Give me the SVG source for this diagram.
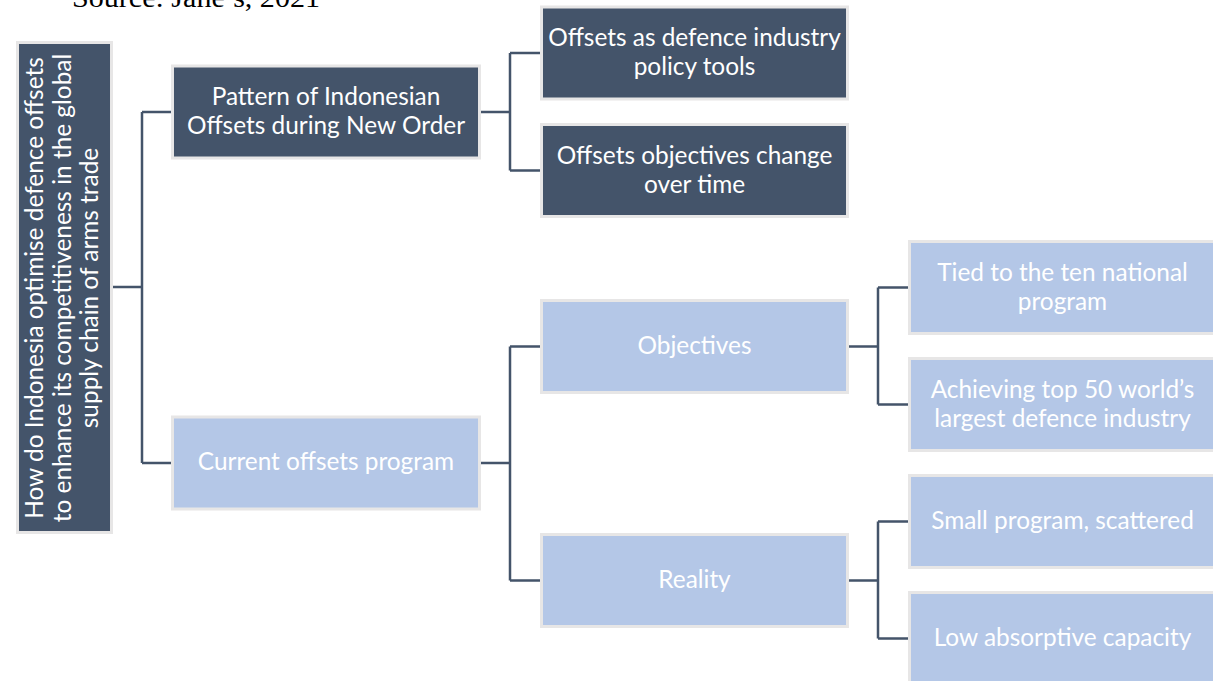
<svg xmlns="http://www.w3.org/2000/svg" width="1213" height="681" viewBox="0 0 1213 681">
<style>
.dark{fill:#44546A;stroke:#E7E6E6;stroke-width:3}
.light{fill:#B4C7E7;stroke:#E7E6E6;stroke-width:3}
.t{font-family:Lato,"Open Sans","Noto Sans",sans-serif;font-size:24.4px;fill:#FFFFFF;text-anchor:middle}
.c{fill:none;stroke:#44546A;stroke-width:2.5}
</style>
<rect width="1213" height="681" fill="#FFFFFF"/>
<text x="72" y="7" font-family="'Liberation Serif',serif" font-size="28" fill="#000000" textLength="248" lengthAdjust="spacingAndGlyphs">Source: Jane’s, 2021</text>
<g id="connectors">
<path class="c" d="M113,287H142M142,112V463M142,112H171M142,463H171"/>
<path class="c" d="M481,112H510M510,53V170.5M510,53H540M510,170.5H540"/>
<path class="c" d="M481,463H510M510,346.5V580.5M510,346.5H540M510,580.5H540"/>
<path class="c" d="M849,346.5H878M878,287.5V404.5M878,287.5H908M878,404.5H908"/>
<path class="c" d="M849,580.5H878M878,521.5V638.5M878,521.5H908M878,638.5H908"/>
</g>
<g id="root">
<rect class="dark" x="17.5" y="42.5" width="94" height="490"/>
<g transform="translate(64.5,288) rotate(-90)">
<text class="t" x="0" y="-21.5">How do Indonesia optimise defence offsets</text>
<text class="t" x="0" y="6">to enhance its competitiveness in the global</text>
<text class="t" x="0" y="33.5">supply chain of arms trade</text>
</g>
</g>
<g id="pattern">
<rect class="dark" x="172.5" y="66" width="307" height="92"/>
<text class="t" x="326" y="105">Pattern of Indonesian</text>
<text class="t" x="326" y="134">Offsets during New Order</text>
</g>
<g id="offsets-tools">
<rect class="dark" x="541.5" y="7" width="306" height="92"/>
<text class="t" x="694.5" y="46">Offsets as defence industry</text>
<text class="t" x="694.5" y="75">policy tools</text>
</g>
<g id="offsets-change">
<rect class="dark" x="541.5" y="124.5" width="306" height="92"/>
<text class="t" x="694.5" y="163.5">Offsets objectives change</text>
<text class="t" x="694.5" y="192.5">over time</text>
</g>
<g id="current">
<rect class="light" x="172.5" y="417" width="307" height="92"/>
<text class="t" x="326" y="470">Current offsets program</text>
</g>
<g id="objectives">
<rect class="light" x="541.5" y="300.5" width="306" height="92"/>
<text class="t" x="694.5" y="353.5">Objectives</text>
</g>
<g id="reality">
<rect class="light" x="541.5" y="534.5" width="306" height="92"/>
<text class="t" x="694.5" y="587.5">Reality</text>
</g>
<g id="tied">
<rect class="light" x="909.5" y="241.5" width="306" height="92"/>
<text class="t" x="1062.5" y="281">Tied to the ten national</text>
<text class="t" x="1062.5" y="310">program</text>
</g>
<g id="achieving">
<rect class="light" x="909.5" y="358.5" width="306" height="92"/>
<text class="t" x="1062.5" y="398">Achieving top 50 world’s</text>
<text class="t" x="1062.5" y="427">largest defence industry</text>
</g>
<g id="small">
<rect class="light" x="909.5" y="475.5" width="306" height="92"/>
<text class="t" x="1062.5" y="529">Small program, scattered</text>
</g>
<g id="low">
<rect class="light" x="909.5" y="592.5" width="306" height="92"/>
<text class="t" x="1062.5" y="646">Low absorptive capacity</text>
</g>
</svg>
